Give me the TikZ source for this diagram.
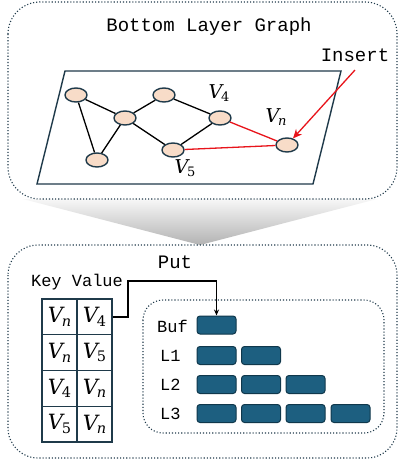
\documentclass[tikz,border=0pt]{standalone}
\usepackage{fontspec}
\setmonofont{Liberation Mono}
\newfontfamily\vfont{DejaVu Serif}
\usetikzlibrary{shapes.geometric,arrows.meta}
\definecolor{slate}{HTML}{1F3A4A}
\definecolor{peach}{HTML}{F8DCC8}
\definecolor{blk}{HTML}{1D5F80}
\definecolor{blkb}{HTML}{10384C}
\definecolor{redl}{HTML}{E8141B}
% #1 size of V, #2 size of index, #3 index
\newcommand{\VV}[3]{{\vfont\fontsize{#1}{#1}\selectfont\itshape V\kern-0.06em\raisebox{-0.32ex}{\fontsize{#2}{#2}\selectfont #3}}}
\begin{document}
\begin{tikzpicture}[x=1pt,y=-1pt,
 gnode/.style={ellipse,draw=slate,fill=peach,line width=1.4pt,minimum width=22pt,minimum height=14pt,inner sep=0pt},
 edge/.style={line width=1.3pt,black},
 redge/.style={line width=1.3pt,redl},
 frame/.style={draw=slate,dotted,line width=1.1pt},
 mono/.style={font=\ttfamily\fontsize{19}{22}\selectfont,inner sep=0pt},
 lbl/.style={font=\ttfamily\fontsize{17}{20}\selectfont,inner sep=0pt},
 vlab/.style={inner sep=0pt},
 cell/.style={draw=slate,line width=1.3pt,minimum width=35pt,minimum height=35.75pt,inner sep=0pt},
 blkst/.style={draw=blkb,fill=blk,line width=1pt,rounded corners=3pt,minimum width=39pt,minimum height=18pt,inner sep=0pt},
 ]
\fill[white] (0,0) rectangle (400,461);
\useasboundingbox (0,0) rectangle (400,461);
% funnel
\shade[top color=gray!6, bottom color=gray!60] (23,199) -- (377,199) -- (200,245) -- cycle;
% frames
\draw[frame,rounded corners=32pt] (8,2) rectangle (397,199);
\draw[frame,rounded corners=30pt] (8,245) rectangle (397,458);
% top part
\node[mono] (title) at (209,27) {Bottom Layer Graph};
\node[mono] (ins) at (355,55) {Insert};
\draw[slate,line width=1.4pt] (65,71) -- (341,71) -- (313,184) -- (37,184) -- cycle;
\node[gnode] (n1) at (76,95) {};
\node[gnode] (n2) at (97,160) {};
\node[gnode] (n3) at (125,118) {};
\node[gnode] (n4) at (164,95) {};
\node[gnode] (n5) at (173,150) {};
\node[gnode] (v4) at (220,118) {};
\node[gnode] (vn) at (287,145) {};
\draw[edge] (n1) -- (n2);
\draw[edge] (n1) -- (n3);
\draw[edge] (n3) -- (n2);
\draw[edge] (n3) -- (n4);
\draw[edge] (n3) -- (n5);
\draw[edge] (n4) -- (v4);
\draw[edge] (n5) -- (v4);
\draw[redge] (v4) -- (vn);
\draw[redge] (n5) -- (vn);
\coordinate (insfrom) at (355,70);
\draw[redge,-{Stealth[length=9pt,width=8pt]}] (insfrom) -- (vn);
\node[vlab] (lv4) at (219,93) {\VV{19}{13}{\upshape 4}};
\node[vlab] (lvn) at (276,117) {\VV{19}{13}{n}};
\node[vlab] (lv5) at (185,168) {\VV{19}{13}{\upshape 5}};
% bottom part
\node[mono] (put) at (175,262) {Put};
\node[lbl] (kv) at (77,282) {Key Value};
\node[cell] (c11) at (59.5,316.9) {\VV{21}{14.5}{n}};
\node[cell] (c12) at (94.5,316.9) {\VV{21}{14.5}{\upshape 4}};
\node[cell] (c21) at (59.5,352.6) {\VV{21}{14.5}{n}};
\node[cell] (c22) at (94.5,352.6) {\VV{21}{14.5}{\upshape 5}};
\node[cell] (c31) at (59.5,388.4) {\VV{21}{14.5}{\upshape 4}};
\node[cell] (c32) at (94.5,388.4) {\VV{21}{14.5}{n}};
\node[cell] (c41) at (59.5,424.1) {\VV{21}{14.5}{\upshape 5}};
\node[cell] (c42) at (94.5,424.1) {\VV{21}{14.5}{n}};
\draw[frame,rounded corners=20pt] (143,300) rectangle (384,433);
\node[lbl,anchor=west] (lbuf) at (157,326) {Buf};
\node[lbl,anchor=west] (l1) at (160,356) {L1};
\node[lbl,anchor=west] (l2) at (160,385) {L2};
\node[lbl,anchor=west] (l3) at (160,414) {L3};
\node[blkst] (b0) at (216.5,325) {};
\node[blkst] (b11) at (216.5,355.5) {};
\node[blkst] (b12) at (261,355.5) {};
\node[blkst] (b21) at (216.5,384.5) {};
\node[blkst] (b22) at (261,384.5) {};
\node[blkst] (b23) at (305.5,384.5) {};
\node[blkst] (b31) at (216.5,413.5) {};
\node[blkst] (b32) at (261,413.5) {};
\node[blkst] (b33) at (305.5,413.5) {};
\node[blkst] (b34) at (350.5,413.5) {};
\coordinate (bend) at (128,281);
\draw[line width=1.2pt,-{Stealth[length=6pt,width=5pt]}] (c12.east) -| (bend) -| (b0.north);
\end{tikzpicture}
\end{document}
